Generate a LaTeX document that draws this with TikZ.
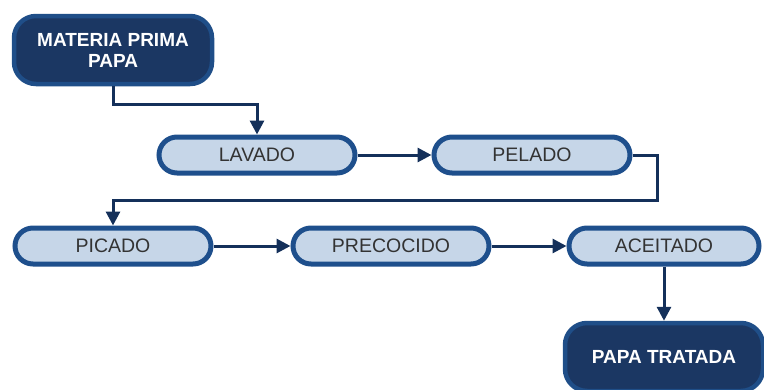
\documentclass[tikz,border=0pt]{standalone}
\usepackage{fontspec}
\setmainfont{Liberation Sans}
\usetikzlibrary{positioning}
\usetikzlibrary{arrows.meta}
\usepackage{xcolor}
\definecolor{pillfill}{HTML}{C6D6E8}
\definecolor{pilledge}{HTML}{1E4F8C}
\definecolor{darkfill}{HTML}{1B3763}
\definecolor{darkedge}{HTML}{1F4E88}
\definecolor{linkcol}{HTML}{14305A}

\begin{document}
\begin{tikzpicture}[x=1pt, y=-1pt,
pillnode/.style={rectangle, rounded corners=18pt, draw=pilledge, fill=pillfill, line width=5pt, minimum width=196pt, minimum height=36pt, inner sep=0pt, font=\fontsize{19.5}{22}\selectfont, text=black!80},
endnode/.style={rectangle, rounded corners=22pt, draw=darkedge, fill=darkfill, line width=4.5pt, minimum width=198pt, minimum height=68pt, inner sep=0pt, align=center, font=\bfseries\fontsize{19}{21}\selectfont, text=white},
link/.style={-{Triangle[length=14pt,width=14pt]}, draw=linkcol, line width=3pt}]
\useasboundingbox (0,0) rectangle (764,389);
\node[endnode] (mp) at (113,50) {MATERIA PRIMA\\PAPA};
\node[pillnode] (lav) at (257,155) {LAVADO};
\node[pillnode] (pel) at (532,155) {PELADO};
\node[pillnode] (pic) at (113,246) {PICADO};
\node[pillnode] (pre) at (391,246) {PRECOCIDO};
\node[pillnode, minimum width=190pt] (ace) at (664,246) {ACEITADO};
\node[endnode] (pt) at (664,357) {PAPA TRATADA};

\draw[link] (mp.south) -- ++(0,18) -| (lav.north);
\draw[link] (lav.east) -- (pel.west);
\draw[link] (pel.east) -| ++(25,45) -| (pic.north);
\draw[link] (pic.east) -- (pre.west);
\draw[link] (pre.east) -- (ace.west);
\draw[link] (ace.south) -- (pt.north);
\end{tikzpicture}
\end{document}
